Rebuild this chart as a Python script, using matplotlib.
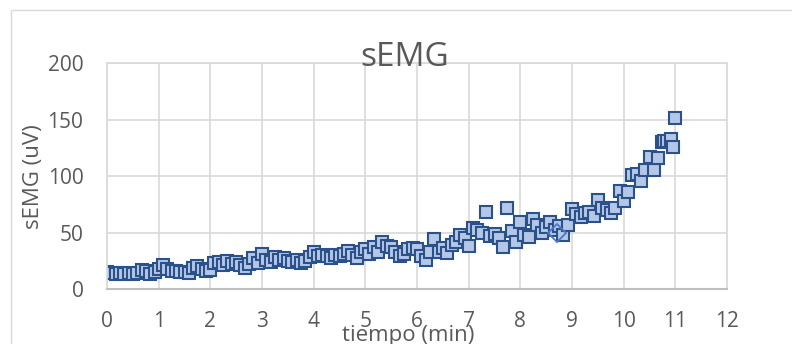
import matplotlib.pyplot as plt
from matplotlib.patches import Rectangle

plt.rcParams['font.family'] = ['Open Sans', 'DejaVu Sans']

# tiempo (min) y amplitud sEMG (uV)
tiempo = [0.00, 0.08, 0.17, 0.25, 0.33, 0.42, 0.50, 0.58, 0.67, 0.75, 0.83, 0.92,
          1.00, 1.08, 1.17, 1.25, 1.33, 1.42, 1.50, 1.58, 1.67, 1.75, 1.83, 1.92,
          2.00, 2.08, 2.17, 2.25, 2.33, 2.42, 2.50, 2.58, 2.67, 2.75, 2.83, 2.92,
          3.00, 3.08, 3.17, 3.25, 3.33, 3.42, 3.50, 3.58, 3.67, 3.75, 3.83, 3.92,
          4.00, 4.08, 4.17, 4.25, 4.33, 4.42, 4.50, 4.58, 4.67, 4.75, 4.83, 4.92,
          5.00, 5.08, 5.17, 5.25, 5.33, 5.42, 5.50, 5.58, 5.67, 5.75, 5.83, 5.92,
          6.00, 6.08, 6.17, 6.25, 6.33, 6.42, 6.50, 6.58, 6.67, 6.75, 6.83, 6.92,
          7.00, 7.08, 7.17, 7.25, 7.33, 7.42, 7.50, 7.58, 7.67, 7.75, 7.83, 7.92,
          8.00, 8.08, 8.17, 8.25, 8.33, 8.42, 8.50, 8.58, 8.67, 8.75, 8.83, 8.92,
          9.00, 9.08, 9.17, 9.25, 9.33, 9.42, 9.50, 9.58, 9.67, 9.75, 9.83, 9.92,
          10.00, 10.08, 10.17, 10.25, 10.33, 10.42, 10.50, 10.58, 10.67, 10.75,
          10.79, 10.83, 10.92, 10.96, 11.00]
semg = [15, 14, 13, 14, 13, 14, 13, 14, 17, 16, 13, 15,
        18, 21, 18, 16, 16, 15, 15, 14, 19, 20, 18, 16,
        17, 23, 24, 21, 25, 22, 24, 21, 19, 22, 27, 23,
        31, 26, 24, 28, 26, 27, 25, 24, 26, 23, 25, 28,
        33, 29, 30, 29, 27, 30, 29, 31, 34, 30, 27, 33,
        35, 31, 37, 33, 42, 38, 37, 33, 29, 31, 35, 36,
        35, 29, 26, 33, 44, 33, 36, 32, 39, 42, 48, 45,
        38, 54, 52, 50, 68, 47, 49, 45, 37, 72, 51, 42,
        59, 48, 46, 62, 57, 50, 55, 59, 52, 56, 48, 57,
        71, 66, 64, 67, 68, 65, 79, 72, 70, 67, 72, 87,
        78, 86, 101, 102, 96, 105, 117, 105, 116, 130,
        131, 131, 133, 126, 151]

# punto suelto de la segunda serie
tiempo_2 = [8.70]
semg_2 = [50]

fig = plt.figure(figsize=(7.92, 3.44), dpi=100)
fig.patches.append(Rectangle((11 / 792, -0.1), 1.1, 1 - 10 / 344 + 0.1,
                             transform=fig.transFigure, fill=False,
                             edgecolor='#d9d9d9', linewidth=1))

ax = fig.add_axes([107 / 792, 1 - 289 / 344, 620 / 792, 226 / 344])

ax.plot(tiempo, semg, linestyle='none', marker='s', markersize=8,
        markerfacecolor='#b4c7e7', markeredgecolor='#2a5189', markeredgewidth=1.5)
ax.plot(tiempo_2, semg_2, linestyle='none', marker='D', markersize=9,
        markerfacecolor='none', markeredgecolor='#4a78c2', markeredgewidth=1.3)

ax.set_xlim(0, 12)
ax.set_ylim(0, 200)
ax.set_xticks(range(0, 13))
ax.set_yticks(range(0, 201, 50))
ax.grid(True, color='#d9d9d9', linewidth=1.2)
ax.set_axisbelow(True)
for side in ['left', 'right', 'top']:
    ax.spines[side].set_color('#d9d9d9')
    ax.spines[side].set_linewidth(1.2)
ax.spines['bottom'].set_color('#bfbfbf')
ax.spines['bottom'].set_linewidth(1.5)
ax.tick_params(length=0, labelsize=15, labelcolor='#595959')
ax.tick_params(axis='x', pad=16)
ax.tick_params(axis='y', pad=17)

fig.text(0.511, 1 - 66 / 344, 'sEMG', fontsize=24, color='#595959',
         ha='center', va='baseline')
fig.text(0.516, 3 / 344, 'tiempo (min)', fontsize=16, color='#595959',
         ha='center', va='baseline')
fig.text(33 / 792, 1 - 177 / 344, 'sEMG (uV)', fontsize=16, color='#595959',
         ha='center', va='center', rotation=90)

fig.savefig('out.png', dpi=100)
